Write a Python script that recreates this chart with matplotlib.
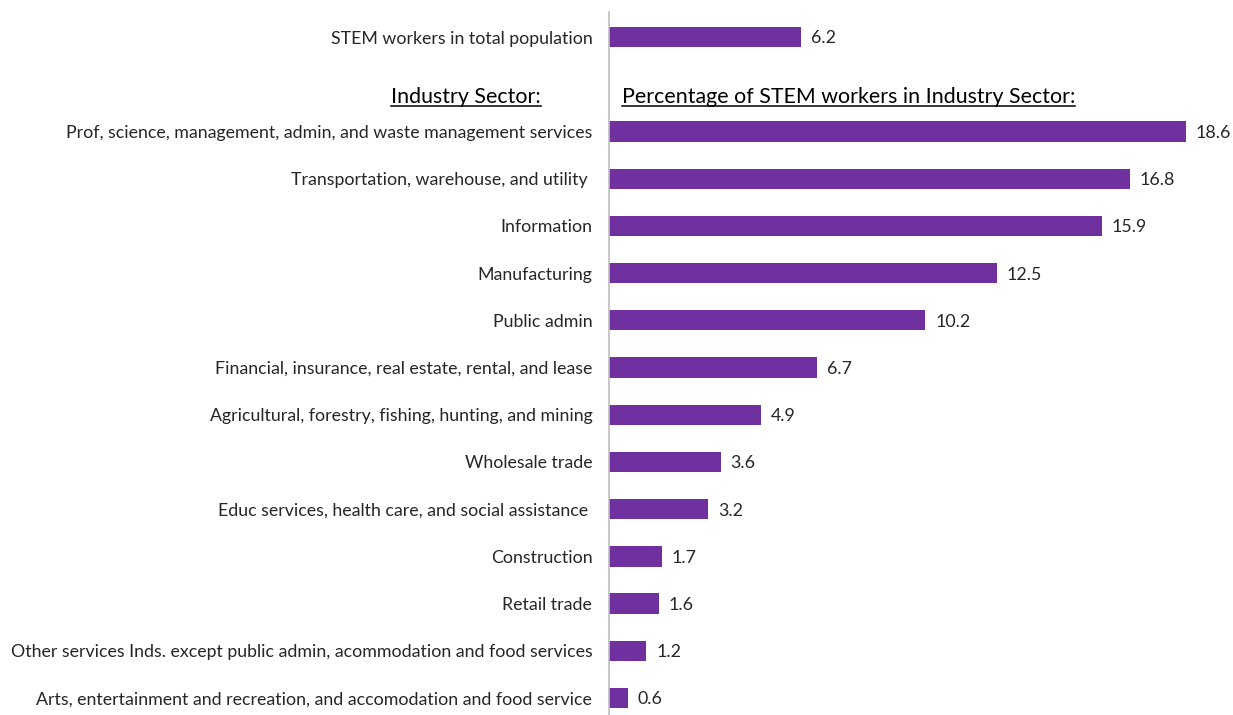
import matplotlib.pyplot as plt
from matplotlib.lines import Line2D

# STEM share by industry sector (percent)
sectores = [
    "Prof, science, management, admin, and waste management services",
    "Transportation, warehouse, and utility ",
    "Information",
    "Manufacturing",
    "Public admin",
    "Financial, insurance, real estate, rental, and lease",
    "Agricultural, forestry, fishing, hunting, and mining",
    "Wholesale trade",
    "Educ services, health care, and social assistance ",
    "Construction",
    "Retail trade",
    "Other services Inds. except public admin, acommodation and food services",
    "Arts, entertainment and recreation, and accomodation and food service",
]
valores = [18.6, 16.8, 15.9, 12.5, 10.2, 6.7, 4.9, 3.6, 3.2, 1.7, 1.6, 1.2, 0.6]

total_label = "STEM workers in total population"
total_valor = 6.2

cor = "#7030A0"
fonte = "Lato"
plt.rcParams['font.family'] = [fonte, 'DejaVu Sans']

fig = plt.figure(figsize=(12.33, 7.15), dpi=100)
W, H = 1233, 715
ax = fig.add_axes([609 / W, 0, 620 / W, 1 - 12 / H])

# linha 0 = total, linha 1 = cabecalhos, depois os setores
rotulos = [total_label, ""] + sectores
numeros = [total_valor, None] + valores
pos = list(range(len(rotulos)))

for y, v in zip(pos, numeros):
    if v is None:
        continue
    ax.barh(y, v, height=0.43, color=cor)
    ax.text(v + 0.32, y + 0.03, f"{v:.1f}", va="center", ha="left", fontsize=12.8, color="#262626")

ax.set_xlim(0, 20)
ax.set_ylim(14.36, -0.53)
ax.set_yticks(pos)
ax.set_yticklabels(rotulos, fontsize=12.8, color="#262626")
ax.tick_params(axis="y", length=0, pad=12)
ax.set_xticks([])
for s in ["top", "right", "bottom"]:
    ax.spines[s].set_visible(False)
ax.spines["left"].set_color("#BFBFBF")
ax.spines["left"].set_linewidth(1.2)

# cabecalhos sublinhados
h1 = ax.text(-2.19, 1.27, "Industry Sector:", ha="right", va="center", fontsize=15.4,
             color="black", clip_on=False)
h2 = ax.text(0.42, 1.27, "Percentage of STEM workers in Industry Sector:", ha="left",
             va="center", fontsize=15.4, color="black", clip_on=False)

fig.canvas.draw()
r = fig.canvas.get_renderer()
for h in (h1, h2):
    bb = h.get_window_extent(r)
    yl = (bb.y0 + 1) / H
    fig.add_artist(Line2D([bb.x0 / W, bb.x1 / W], [yl, yl], color="black", lw=1.1))

fig.savefig("out.png", dpi=100)
